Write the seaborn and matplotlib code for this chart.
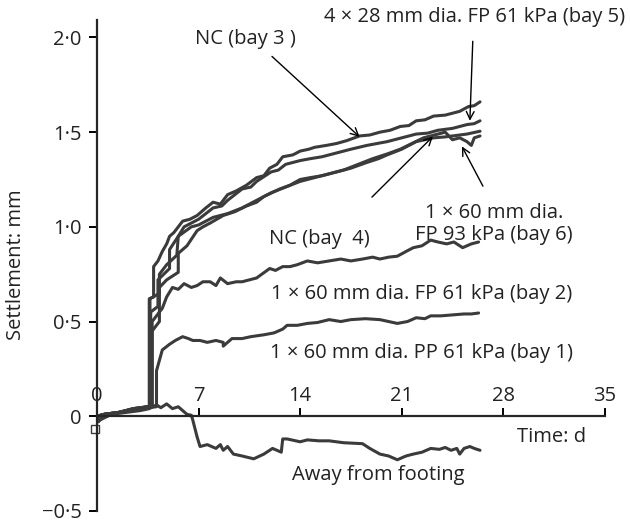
import numpy as np
import pandas as pd
import matplotlib
matplotlib.use("Agg")
import matplotlib.pyplot as plt
import seaborn as sns

sns.set_style("ticks")
plt.rcParams['font.family'] = ['Open Sans', 'DejaVu Sans']

LINE_COLOR = "#3b3b3b"

# settlement readings (days, mm)
t_bay3 = [0, 0.1, 0.5, 1.5, 2.5, 3.5, 3.6, 3.6, 3.9, 3.9, 4.2, 4.5, 4.8, 5.0, 5.3, 5.9, 6.4, 6.9, 7.5, 8.0, 8.5, 9.0,
          9.6, 10.3, 11.0, 11.5, 11.9, 12.4, 12.8, 13.5, 14.0, 14.6, 15.0, 15.8, 16.5, 17.2, 18.1, 18.8, 19.5, 20.2,
          20.9, 21.5, 22.0, 22.6, 23.2, 24.0, 24.5, 25.0, 25.6, 26.0, 26.4]
s_bay3 = [0, -0.03, 0.01, 0.02, 0.04, 0.05, 0.05, 0.62, 0.63, 0.79, 0.82, 0.87, 0.91, 0.95, 0.97, 1.03, 1.04, 1.06, 1.10, 1.13, 1.12, 1.17,
          1.19, 1.22, 1.26, 1.27, 1.31, 1.33, 1.37, 1.38, 1.40, 1.41, 1.42, 1.43, 1.44, 1.455, 1.48, 1.485, 1.50, 1.51,
          1.53, 1.535, 1.56, 1.565, 1.585, 1.59, 1.60, 1.61, 1.635, 1.64, 1.66]

t_bay5 = [0, 0.5, 1.5, 2.5, 3.5, 3.7, 3.7, 4.2, 4.2, 4.6, 5.0, 5.0, 5.6, 6.0, 6.5, 7.0, 7.5, 8.0, 8.6, 9.0, 10.0, 10.6,
          11.0, 12.0, 12.5, 13.0, 14.0, 14.7, 15.5, 16.5, 17.5, 18.6, 19.3, 20.0, 21.0, 22.0, 22.8, 23.5, 24.5, 25.0,
          25.5, 26.0, 26.4]
s_bay5 = [0, 0.01, 0.02, 0.04, 0.05, 0.05, 0.55, 0.58, 0.72, 0.75, 0.78, 0.88, 0.95, 1.00, 1.02, 1.04, 1.07, 1.10, 1.11, 1.14, 1.20, 1.21,
          1.24, 1.29, 1.30, 1.33, 1.35, 1.36, 1.37, 1.39, 1.41, 1.43, 1.44, 1.45, 1.47, 1.49, 1.495, 1.51, 1.52, 1.53,
          1.54, 1.545, 1.56]

t_bay4 = [0, 0.5, 1.5, 2.5, 3.5, 3.8, 3.8, 4.3, 4.3, 4.8, 5.2, 5.6, 5.6, 6.2, 6.9, 7.3, 7.8, 8.7, 9.5, 10.3, 11.0,
          11.5, 12.6, 13.3, 14.0, 14.7, 15.5, 16.5, 17.5, 18.6, 19.4, 20.0, 21.0, 22.0, 23.2, 24.0, 24.5, 25.5, 26.4]
s_bay4 = [0, 0.01, 0.02, 0.035, 0.05, 0.05, 0.45, 0.50, 0.68, 0.72, 0.74, 0.76, 0.86, 0.90, 0.98, 1.00, 1.02, 1.06, 1.08, 1.11, 1.13,
          1.16, 1.20, 1.22, 1.25, 1.26, 1.27, 1.29, 1.31, 1.34, 1.36, 1.38, 1.41, 1.45, 1.47, 1.475, 1.48, 1.49, 1.505]

t_bay6 = [0, 0.5, 1.5, 2.5, 3.5, 3.65, 3.65, 4.1, 4.3, 4.3, 4.8, 5.5, 5.6, 6.5, 7.0, 8.0, 9.0, 10.0, 11.0, 12.0,
          13.0, 14.0, 15.5, 17.0, 18.0, 19.0, 20.0, 20.9, 21.7, 22.5, 23.0, 23.5, 24.0, 24.5, 25.0, 25.5, 25.8, 26.0, 26.4]
s_bay6 = [0, 0.01, 0.02, 0.04, 0.05, 0.05, 0.62, 0.64, 0.65, 0.75, 0.80, 0.85, 0.95, 1.00, 1.01, 1.05, 1.07, 1.10, 1.14, 1.18,
          1.21, 1.24, 1.27, 1.30, 1.33, 1.36, 1.385, 1.41, 1.44, 1.47, 1.48, 1.49, 1.50, 1.46, 1.47, 1.45, 1.43, 1.47, 1.48]

t_bay2 = [0, 0.5, 1.5, 2.5, 3.5, 3.8, 3.8, 4.5, 4.8, 5.2, 5.6, 6.0, 6.5, 6.9, 7.3, 7.8, 8.2, 8.5, 9.0, 9.6, 10.0,
          10.5, 11.0, 11.9, 12.3, 12.8, 13.3, 13.8, 14.5, 15.2, 16.0, 16.8, 17.5, 18.3, 19.0, 19.5, 20.1, 20.7,
          21.3, 21.8, 22.4, 23.0, 23.5, 24.1, 24.6, 25.2, 25.8, 26.3]
s_bay2 = [0, 0.01, 0.02, 0.035, 0.05, 0.05, 0.50, 0.57, 0.63, 0.68, 0.67, 0.70, 0.68, 0.69, 0.71, 0.71, 0.69, 0.73, 0.70, 0.71, 0.71,
          0.72, 0.73, 0.78, 0.77, 0.79, 0.79, 0.80, 0.82, 0.81, 0.82, 0.83, 0.82, 0.83, 0.84, 0.83, 0.84, 0.845,
          0.87, 0.89, 0.90, 0.93, 0.92, 0.91, 0.92, 0.89, 0.91, 0.92]

t_bay1 = [0, 0.5, 1.5, 2.5, 3.5, 4.1, 4.1, 4.5, 5.0, 5.4, 5.9, 6.3, 6.6, 7.1, 7.6, 8.2, 8.7, 8.7, 9.3, 10.0, 10.6, 11.5,
          12.2, 12.8, 13.1, 13.8, 14.5, 15.2, 16.0, 16.8, 17.5, 18.5, 19.5, 20.1, 20.7, 21.4, 22.0, 22.6, 23.0, 23.7,
          24.5, 25.3, 25.8, 26.3]
s_bay1 = [0, 0.01, 0.02, 0.035, 0.045, 0.05, 0.24, 0.35, 0.38, 0.40, 0.42, 0.41, 0.40, 0.40, 0.39, 0.40, 0.39, 0.37, 0.41, 0.41, 0.42, 0.43,
          0.44, 0.46, 0.48, 0.48, 0.49, 0.495, 0.51, 0.50, 0.51, 0.515, 0.51, 0.50, 0.49, 0.50, 0.52, 0.515, 0.53, 0.53,
          0.535, 0.54, 0.54, 0.545]

t_away = [0, 0.2, 1.0, 2.0, 3.0, 3.6, 4.1, 4.4, 4.8, 5.2, 5.6, 5.9, 6.2, 6.5, 6.6, 6.9, 7.1, 7.6, 8.2, 8.5, 8.7, 9.0, 9.4, 10.0,
          10.8, 11.5, 12.1, 12.7, 12.8, 13.1, 14.0, 14.5, 15.3, 16.0, 17.0, 18.3, 18.8, 19.5, 20.1, 20.7, 21.3, 21.8,
          22.4, 23.0, 23.6, 24.0, 24.4, 24.8, 25.0, 25.3, 25.7, 26.0, 26.4]
s_away = [0, -0.02, 0.01, 0.02, 0.03, 0.04, 0.06, 0.045, 0.065, 0.04, 0.05, 0.03, 0.01, 0.005, -0.02, -0.11, -0.16, -0.15, -0.17, -0.15, -0.18, -0.16, -0.20, -0.21,
          -0.225, -0.20, -0.17, -0.19, -0.12, -0.12, -0.135, -0.125, -0.13, -0.13, -0.14, -0.145, -0.17, -0.20, -0.21, -0.23, -0.21, -0.20,
          -0.19, -0.17, -0.175, -0.165, -0.18, -0.17, -0.20, -0.17, -0.16, -0.17, -0.18]

curves = {"bay3": (t_bay3, s_bay3), "bay5": (t_bay5, s_bay5), "bay4": (t_bay4, s_bay4),
          "bay6": (t_bay6, s_bay6), "bay2": (t_bay2, s_bay2), "bay1": (t_bay1, s_bay1),
          "away": (t_away, s_away)}

x_ticks = [0, 7, 14, 21, 28, 35]
y_ticks = [-0.5, 0, 0.5, 1.0, 1.5, 2.0]


def y_label(v):
    if v == 0:
        return "0"
    return f"{v:.1f}".replace(".", "·").replace("-", "−")


FS = 14.5

fig = plt.figure(figsize=(6.3, 5.24), dpi=100)
ax = fig.add_axes([0.154, 0.025, 0.806, 0.936])

for name, (t, s) in curves.items():
    df = pd.DataFrame({"time": t, "settlement": s})
    sns.lineplot(data=df, x="time", y="settlement", ax=ax, sort=False, estimator=None,
                 color=LINE_COLOR, lw=2.2)

ax.plot([-0.15], [-0.065], marker="s", ms=6, mfc="white", mec=LINE_COLOR, mew=1.0,
        clip_on=False, zorder=1)

ax.set_xlim(0, 35)
ax.set_ylim(-0.5, 2.09)

ax.spines["bottom"].set_visible(False)
ax.spines["right"].set_visible(False)
ax.spines["top"].set_position(("data", 0))
ax.spines["top"].set_linewidth(1.6)
ax.spines["left"].set_linewidth(1.6)
ax.spines["left"].set_bounds(-0.5, 2.09)
ax.xaxis.set_ticks_position("top")
ax.xaxis.set_label_position("top")

ax.set_xticks(x_ticks)
ax.set_xticklabels([str(v) for v in x_ticks])
ax.set_yticks(y_ticks)
ax.set_yticklabels([y_label(v) for v in y_ticks])
ax.tick_params(axis="both", direction="out", length=6, width=1.4, labelsize=FS,
               colors="black", labelcolor="#222222")
ax.tick_params(axis="x", pad=1)
ax.tick_params(axis="y", pad=5)

ax.set_xlabel("")
ax.set_ylabel("")
fig.text(0.025, 0.494, "Settlement: mm", rotation=90, ha="center", va="center",
         fontsize=FS, color="#222222")

ax.text(31.35, -0.108, "Time: d", ha="center", va="center", fontsize=FS, color="#222222")

txt = dict(fontsize=FS, color="#222222", ha="center", va="center")
arrow = dict(arrowstyle="->", color="black", lw=1.0, shrinkA=0, shrinkB=0,
             mutation_scale=14)

ax.text(10.2, 1.99, "NC (bay 3 )", **txt)
ax.annotate("", xy=(18.1, 1.475), xytext=(12.06, 1.90), arrowprops=arrow)

ax.text(26.05, 2.106, "4 × 28 mm dia. FP 61 kPa (bay 5)", clip_on=False, **txt)
ax.annotate("", xy=(25.7, 1.56), xytext=(25.9, 1.98), arrowprops=arrow, annotation_clip=False)

ax.text(15.3, 0.936, "NC (bay  4)", **txt)
ax.annotate("", xy=(23.15, 1.477), xytext=(18.95, 1.157), arrowprops=arrow)

ax.text(27.35, 1.015, "1 × 60 mm dia.\nFP 93 kPa (bay 6)", linespacing=1.15, **txt)
ax.annotate("", xy=(25.15, 1.425), xytext=(26.6, 1.215), arrowprops=arrow)

ax.text(22.4, 0.648, "1 × 60 mm dia. FP 61 kPa (bay 2)", **txt)
ax.text(22.4, 0.333, "1 × 60 mm dia. PP 61 kPa (bay 1)", **txt)
ax.text(19.4, -0.312, "Away from footing", **txt)

fig.savefig("out.png", dpi=100)
